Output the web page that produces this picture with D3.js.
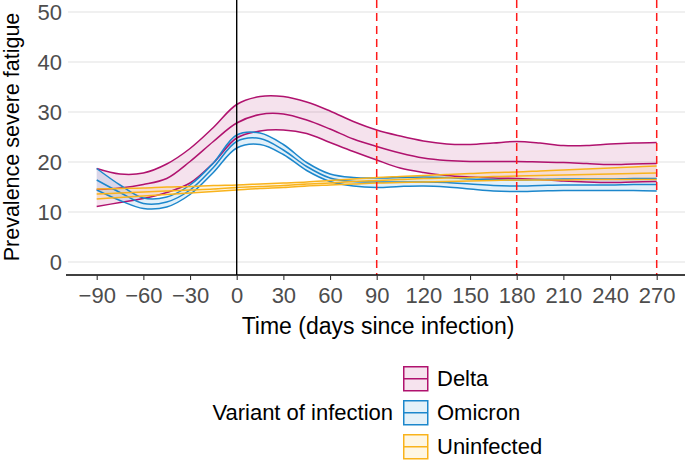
<!DOCTYPE html>
<html>
<head>
<meta charset="utf-8">
<script src="https://cdn.jsdelivr.net/npm/d3@7"></script>
<style>
  body { margin: 0; background: #fff; }
  svg { font-family: "Liberation Sans", Arial, sans-serif; }
</style>
</head>
<body>
<svg id="drawing_region"></svg>
<script>
// days since infection, one value every 15 days
const days = [-90, -75, -60, -45, -30, -15, 0, 15, 30, 45, 60, 75, 90, 105, 120, 135, 150, 165, 180, 195, 210, 225, 240, 255, 270];

const deltaLower = [11.1, 11.9, 12.7, 13.9, 15.8, 19.8, 24.8, 26.2, 26.4, 25.7, 23.9, 22.1, 20.4, 18.8, 17.9, 17.3, 17.0, 16.8, 16.7, 16.5, 16.2, 16.0, 15.9, 16.0, 16.1];
const deltaMid   = [14.5, 14.8, 15.5, 16.7, 20.1, 24.1, 27.8, 29.5, 29.6, 28.4, 26.6, 24.6, 23.1, 21.8, 20.8, 20.3, 20.1, 20.1, 20.1, 20.0, 19.9, 19.7, 19.5, 19.6, 19.7];
const deltaUpper = [18.7, 17.6, 17.8, 19.6, 22.7, 26.9, 31.5, 33.1, 33.1, 32.0, 30.2, 28.1, 26.4, 25.2, 24.2, 23.6, 23.5, 23.8, 24.1, 23.8, 23.3, 23.3, 23.6, 23.8, 23.9];

const omicronLower = [14.4, 12.3, 10.7, 11.0, 13.5, 17.9, 22.8, 23.5, 21.5, 18.3, 16.1, 15.2, 14.9, 15.1, 15.2, 15.0, 14.6, 14.2, 14.1, 14.2, 14.3, 14.3, 14.3, 14.3, 14.2];
const omicronMid   = [16.4, 13.9, 11.7, 12.0, 14.4, 18.9, 24.1, 24.7, 22.4, 19.1, 16.8, 16.1, 16.0, 16.0, 16.0, 15.9, 15.6, 15.3, 15.2, 15.3, 15.4, 15.4, 15.4, 15.5, 15.5];
const omicronUpper = [18.7, 15.4, 12.8, 13.0, 15.4, 19.8, 25.4, 25.8, 23.5, 19.9, 17.6, 16.9, 16.8, 16.9, 17.0, 16.9, 16.6, 16.5, 16.4, 16.5, 16.6, 16.6, 16.6, 16.7, 16.7];

const uninfLower = [12.6, 12.9, 13.2, 13.5, 13.8, 14.1, 14.4, 14.7, 14.9, 15.2, 15.4, 15.6, 15.8, 15.9, 16.0, 16.1, 16.2, 16.3, 16.4, 16.4, 16.4, 16.5, 16.5, 16.5, 16.5];
const uninfMid   = [13.6, 13.8, 14.0, 14.2, 14.4, 14.6, 14.9, 15.1, 15.3, 15.6, 15.8, 16.1, 16.3, 16.5, 16.7, 16.8, 16.9, 17.1, 17.2, 17.3, 17.4, 17.5, 17.6, 17.7, 17.8];
const uninfUpper = [14.6, 14.7, 14.8, 15.0, 15.1, 15.3, 15.4, 15.6, 15.8, 16.0, 16.3, 16.6, 16.9, 17.1, 17.3, 17.5, 17.7, 17.9, 18.0, 18.2, 18.4, 18.6, 18.8, 19.0, 19.2];

const xTicks = [-90, -60, -30, 0, 30, 60, 90, 120, 150, 180, 210, 240, 270];
const yTicks = [0, 10, 20, 30, 40, 50];
const cutoffs = [90, 180, 270];
const variants = ["Delta", "Omicron", "Uninfected"];
const colors = ["#b0126e", "#1c87cc", "#f9b31c"];

const series = [
    { name: "Delta", lo: deltaLower, mid: deltaMid, hi: deltaUpper },
    { name: "Omicron", lo: omicronLower, mid: omicronMid, hi: omicronUpper },
    { name: "Uninfected", lo: uninfLower, mid: uninfMid, hi: uninfUpper }
];

const W = 685, H = 460;
const svg = d3.select('#drawing_region').attr('width', W).attr('height', H);

const x = d3.scaleLinear().domain([-108, 288]).range([68.7, 684.7]);
const y = d3.scaleLinear().domain([-2.6, 52.4]).range([275, 0]);
const color = d3.scaleOrdinal().domain(variants).range(colors);

// grid
svg.append('g').selectAll('line')
    .data(yTicks)
    .join('line')
    .attr('x1', 68).attr('x2', W)
    .attr('y1', d => y(d)).attr('y2', d => y(d))
    .attr('stroke', '#ebebeb')
    .attr('stroke-width', 1.3);

// ribbons
const area = d3.area()
    .x(d => x(d.day))
    .y0(d => y(d.lo))
    .y1(d => y(d.hi))
    .curve(d3.curveCatmullRom.alpha(0.5));

const line = d3.line()
    .x(d => x(d.day))
    .y(d => y(d.v))
    .curve(d3.curveCatmullRom.alpha(0.5));

series.forEach(s => {
    s.rows = days.map((d, i) => ({ day: d, lo: s.lo[i], mid: s.mid[i], hi: s.hi[i] }));
});

svg.append('g').selectAll('path')
    .data(series)
    .join('path')
    .attr('d', s => area(s.rows))
    .attr('fill', s => color(s.name))
    .attr('fill-opacity', 0.12);

series.forEach(s => {
    ['lo', 'mid', 'hi'].forEach(k => {
        svg.append('path')
            .attr('d', line(s.rows.map(r => ({ day: r.day, v: r[k] }))))
            .attr('fill', 'none')
            .attr('stroke', color(s.name))
            .attr('stroke-width', 1.5);
    });
});

// reference lines
svg.append('line')
    .attr('x1', x(0)).attr('x2', x(0))
    .attr('y1', 0).attr('y2', 275)
    .attr('stroke', 'black')
    .attr('stroke-width', 1.4);

svg.append('g').selectAll('line')
    .data(cutoffs)
    .join('line')
    .attr('x1', d => x(d)).attr('x2', d => x(d))
    .attr('y1', 0).attr('y2', 275)
    .attr('stroke', '#ff1a1a')
    .attr('stroke-width', 1.5)
    .attr('stroke-dasharray', '8,5');

// x axis
const xAxis = svg.append('g')
    .attr('transform', 'translate(0,275)')
    .call(d3.axisBottom(x).tickValues(xTicks).tickSize(5).tickPadding(7)
        .tickFormat(d => d < 0 ? '\u2212' + Math.abs(d) : d));
xAxis.select('.domain').attr('d', `M66,0H${W}`).attr('stroke', 'black').attr('stroke-width', 1.3);
xAxis.selectAll('.tick line').attr('stroke', '#333').attr('stroke-width', 1.1);
xAxis.selectAll('.tick text')
    .attr('fill', '#4d4d4d')
    .style('font-size', '22px')
    .style('font-family', '"Liberation Sans", Arial, sans-serif');

// y tick labels
svg.append('g').selectAll('text')
    .data(yTicks)
    .join('text')
    .attr('x', 62)
    .attr('y', d => y(d))
    .attr('dy', '0.36em')
    .attr('text-anchor', 'end')
    .attr('fill', '#4d4d4d')
    .style('font-size', '22px')
    .text(d => d);

// axis titles
svg.append('text')
    .attr('x', 378)
    .attr('y', 334)
    .attr('text-anchor', 'middle')
    .style('font-size', '23px')
    .text('Time (days since infection)');

svg.append('text')
    .attr('transform', 'translate(19,137) rotate(-90)')
    .attr('text-anchor', 'middle')
    .style('font-size', '21.5px')
    .text('Prevalence severe fatigue');

// legend
const legend = svg.append('g');
const keyX = 403, keyY0 = 366, keyStep = 34, keyS = 24;

legend.append('text')
    .attr('x', 393)
    .attr('y', keyY0 + keyStep + keyS / 2)
    .attr('dy', '0.36em')
    .attr('text-anchor', 'end')
    .style('font-size', '22px')
    .text('Variant of infection');

const keys = legend.selectAll('g.key')
    .data(variants)
    .join('g')
    .attr('class', 'key')
    .attr('transform', (d, i) => `translate(${keyX},${keyY0 + i * keyStep})`);

keys.append('rect')
    .attr('x', 0.75).attr('y', 0.75)
    .attr('width', keyS).attr('height', keyS)
    .attr('fill', d => d3.interpolateRgb('white', color(d))(0.12))
    .attr('stroke', d => color(d))
    .attr('stroke-width', 1.5);

keys.append('line')
    .attr('x1', 0.75).attr('x2', keyS + 0.75)
    .attr('y1', keyS / 2 + 0.75).attr('y2', keyS / 2 + 0.75)
    .attr('stroke', d => color(d))
    .attr('stroke-width', 1.5);

keys.append('text')
    .attr('x', 34)
    .attr('y', keyS / 2)
    .attr('dy', '0.36em')
    .style('font-size', '22px')
    .text(d => d);
</script>
</body>
</html>
